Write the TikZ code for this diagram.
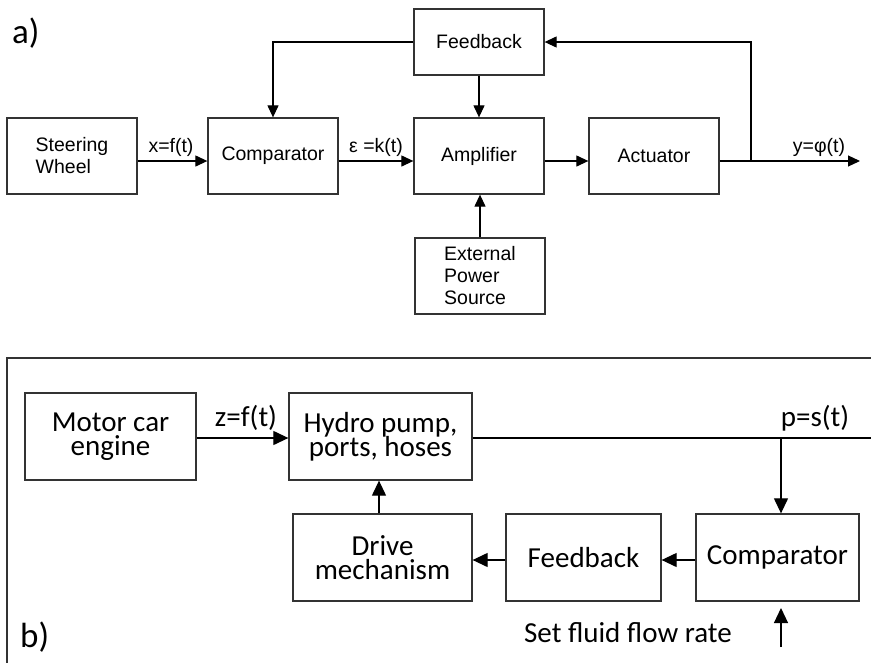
\documentclass[tikz,border=0pt]{standalone}
\usepackage{fontspec}
\setmainfont{Liberation Sans}
\newfontfamily\calibfont{Carlito}
\usetikzlibrary{arrows.meta}
\newcommand\tightlines{\lineskiplimit=-50pt\relax}
\begin{document}
\begin{tikzpicture}[x=1pt,y=-1pt,
 blk/.style={draw=black!80, line width=1.3pt, minimum width=130pt, minimum height=76pt, inner sep=0pt, font=\fontsize{19.5}{22}\selectfont, align=center},
 bblk/.style={draw=black!80, line width=1.3pt, inner sep=0pt, minimum height=87pt, font={\calibfont\fontsize{29}{24}\selectfont\tightlines}, align=center},
 wire/.style={line width=1.2pt},
 conn/.style={wire, -{Triangle[length=12pt,width=11pt]}},
 bconn/.style={wire, -{Triangle[length=15pt,width=14pt]}},
 lbl/.style={font=\fontsize{19.5}{22}\selectfont, inner sep=0pt, anchor=base},
 blbl/.style={font=\calibfont\fontsize{29}{29}\selectfont, inner sep=0pt, anchor=base},
 tag/.style={font=\calibfont\fontsize{35}{35}\selectfont, inner sep=0pt, anchor=base west}]
\useasboundingbox (0,0) rectangle (871,662);
% ---------- a) ----------
\node[tag] (ta) at (12,43) {a)};
\node[blk, align=left] (sw) at (72,156) {Steering\\Wheel};
\node[blk] (cmp) at (273,156) {Comparator};
\node[blk] (amp) at (479,156) {Amplifier};
\node[blk] (act) at (654,156) {Actuator};
\node[blk, minimum height=66pt] (fb) at (479,42) {Feedback};
\node[blk, align=left] (ext) at (480,276) {External\\Power\\Source};
\coordinate (ml) at (0,161);
\coordinate (br) at (751,161);
\coordinate (out) at (860,161);
\draw[conn] (sw.east |- ml) -- (cmp.west |- ml);
\draw[conn] (cmp.east |- ml) -- (amp.west |- ml);
\draw[conn] (amp.east |- ml) -- (act.west |- ml);
\draw[conn] (act.east |- ml) -- (out);
\draw[conn] (br) |- (fb.east);
\draw[conn] (fb.west) -| (cmp.north);
\draw[conn] (fb.south) -- (amp.north);
\draw[conn] (ext.north) -- (ext.north |- amp.south);
\node[lbl] (lx) at (171,152) {x=f(t)};
\node[lbl] (le) at (376,152) {ε =k(t)};
\node[lbl] (ly) at (819,152) {y=φ(t)};
% ---------- b) ----------
\draw[line width=1.3pt, black!80] (880,358) -- (7,358) -- (7,670);
\node[tag] (tb) at (20,647) {b)};
\node[bblk, minimum width=171pt] (mce) at (110.5,436.5) {Motor car\\engine};
\node[bblk, minimum width=183pt] (hp) at (380.5,436.5) {Hydro pump,\\ports, hoses};
\node[bblk, minimum width=179pt] (dm) at (382.5,557.5) {Drive\\mechanism};
\node[bblk, minimum width=155pt] (bfb) at (583.5,557.5) {Feedback};
\node[bblk, minimum width=163pt] (bcmp) at (777.5,557.5) {Comparator};
\coordinate (bml) at (0,438);
\coordinate (pe) at (872,438);
\coordinate (bj) at (781,438);
\coordinate (ux) at (379,0);
\coordinate (bl) at (0,560);
\coordinate (sf) at (781,647);
\coordinate (sft) at (781,608);
\draw[bconn] (mce.east |- bml) -- (hp.west |- bml);
\draw[wire] (hp.east |- bml) -- (pe);
\draw[bconn] (bj) -- (bj |- bcmp.north);
\draw[bconn] (dm.north -| ux) -- (hp.south -| ux);
\draw[bconn] (bcmp.west |- bl) -- (bfb.east |- bl);
\draw[bconn] (bfb.west |- bl) -- (dm.east |- bl);
\draw[bconn] (sf) -- (sft);
\node[blbl] (lz) at (246,426) {z=f(t)};
\node[blbl] (lp) at (815,426) {p=s(t)};
\node[blbl] (lsf) at (628,642) {Set fluid flow rate};
\end{tikzpicture}
\end{document}
